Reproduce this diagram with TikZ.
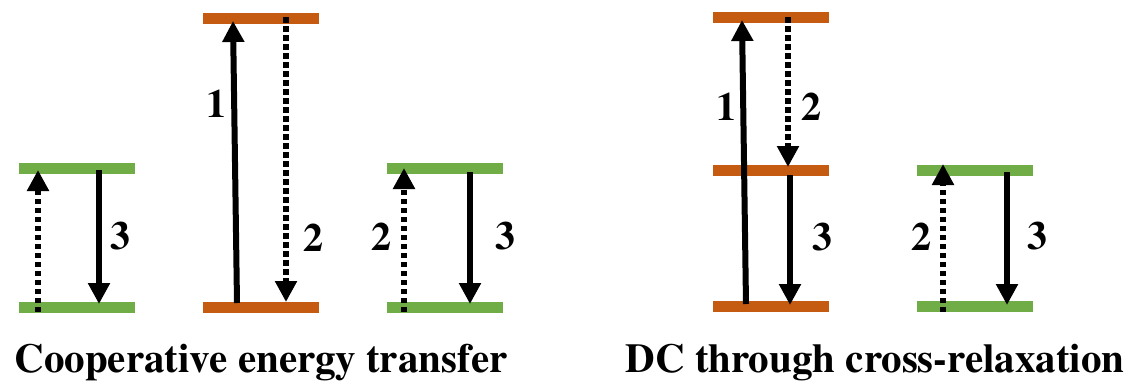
\documentclass[tikz,border=0pt]{standalone}
\usepackage[T1]{fontenc}
\renewcommand{\rmdefault}{ptm}
\usetikzlibrary{arrows.meta,decorations.markings}
\definecolor{lvgreen}{HTML}{70AD47}
\definecolor{lvorange}{HTML}{C55A11}
\newcommand{\capfont}{\fontfamily{ptm}\fontseries{b}\selectfont}
\begin{document}
\begin{tikzpicture}[x=1pt,y=-1pt,
  lvbar/.style={fill=#1, draw=none, minimum width=116pt, minimum height=11pt, inner sep=0pt},
  solidarrow/.style={line width=6pt, -{Triangle[width=21pt,length=21pt]}},
  dotarrow/.style={line width=6pt, dash pattern=on 0pt off 2000pt, -{Triangle[width=21pt,length=21pt]},
    postaction={decorate},
    decoration={markings, mark=between positions 0 and -20pt step 9pt with {\fill[black] (0pt,-3.25pt) rectangle (5.5pt,3.25pt);}}},
  lbl/.style={font=\fontsize{40}{40}\capfont, inner sep=0pt},
  captxt/.style={font=\fontsize{41}{41}\capfont, inner sep=0pt, anchor=base}]
\useasboundingbox (0,0) rectangle (1135,383);
% levels
\node[lvbar=lvgreen] (g1t) at (77,168) {};
\node[lvbar=lvgreen] (g1b) at (77,307) {};
\node[lvbar=lvorange] (o1t) at (260.5,18.5) {};
\node[lvbar=lvorange] (o1b) at (260.5,307) {};
\node[lvbar=lvgreen] (g2t) at (444.5,168.5) {};
\node[lvbar=lvgreen] (g2b) at (444.5,307) {};
\node[lvbar=lvorange] (o2t) at (771,17.5) {};
\node[lvbar=lvorange] (o2m) at (771,170) {};
\node[lvbar=lvorange] (o2b) at (771,306) {};
\node[lvbar=lvgreen] (g3t) at (974.5,170) {};
\node[lvbar=lvgreen] (g3b) at (974.5,306.5) {};
% arrow end points
\coordinate (a1s) at (38,312);  \coordinate (a1e) at (38,170);
\coordinate (a2s) at (99,170);  \coordinate (a2e) at (99,304);
\coordinate (a3s) at (237,303); \coordinate (a3e) at (233,21);
\coordinate (a4s) at (286,17);  \coordinate (a4e) at (286,302);
\coordinate (a5s) at (404,312); \coordinate (a5e) at (404,168);
\coordinate (a6s) at (470,172); \coordinate (a6e) at (470,304);
\coordinate (a7s) at (746,304); \coordinate (a7e) at (742,20);
\coordinate (a8s) at (788,17);  \coordinate (a8e) at (788,167);
\coordinate (a9s) at (790,175); \coordinate (a9e) at (790,305);
\coordinate (a10s) at (943,312); \coordinate (a10e) at (943,164);
\coordinate (a11s) at (1007,172); \coordinate (a11e) at (1007,305);
% arrows
\draw[dotarrow] (a1s) -- (a1e);
\draw[solidarrow] (a2s) -- (a2e);
\draw[solidarrow] (a3s) -- (a3e);
\draw[dotarrow] (a4s) -- (a4e);
\draw[dotarrow] (a5s) -- (a5e);
\draw[solidarrow] (a6s) -- (a6e);
\draw[solidarrow] (a7s) -- (a7e);
\draw[dotarrow] (a8s) -- (a8e);
\draw[solidarrow] (a9s) -- (a9e);
\draw[dotarrow] (a10s) -- (a10e);
\draw[solidarrow] (a11s) -- (a11e);
% labels
\node[lbl] (l1) at (120,236) {3};
\node[lbl] (l2) at (216,104) {1};
\node[lbl] (l3) at (313,238) {2};
\node[lbl] (l4) at (381,237) {2};
\node[lbl] (l5) at (505,236) {3};
\node[lbl] (l6) at (726,107) {1};
\node[lbl] (l7) at (811,107) {2};
\node[lbl] (l8) at (822,237) {3};
\node[lbl] (l9) at (921,237) {2};
\node[lbl] (l10) at (1037,236) {3};
% captions
\node[captxt] (c1) at (261,372) {Cooperative energy transfer};
\node[captxt] (c2) at (875,372) {DC through cross-relaxation};
\end{tikzpicture}
\end{document}
